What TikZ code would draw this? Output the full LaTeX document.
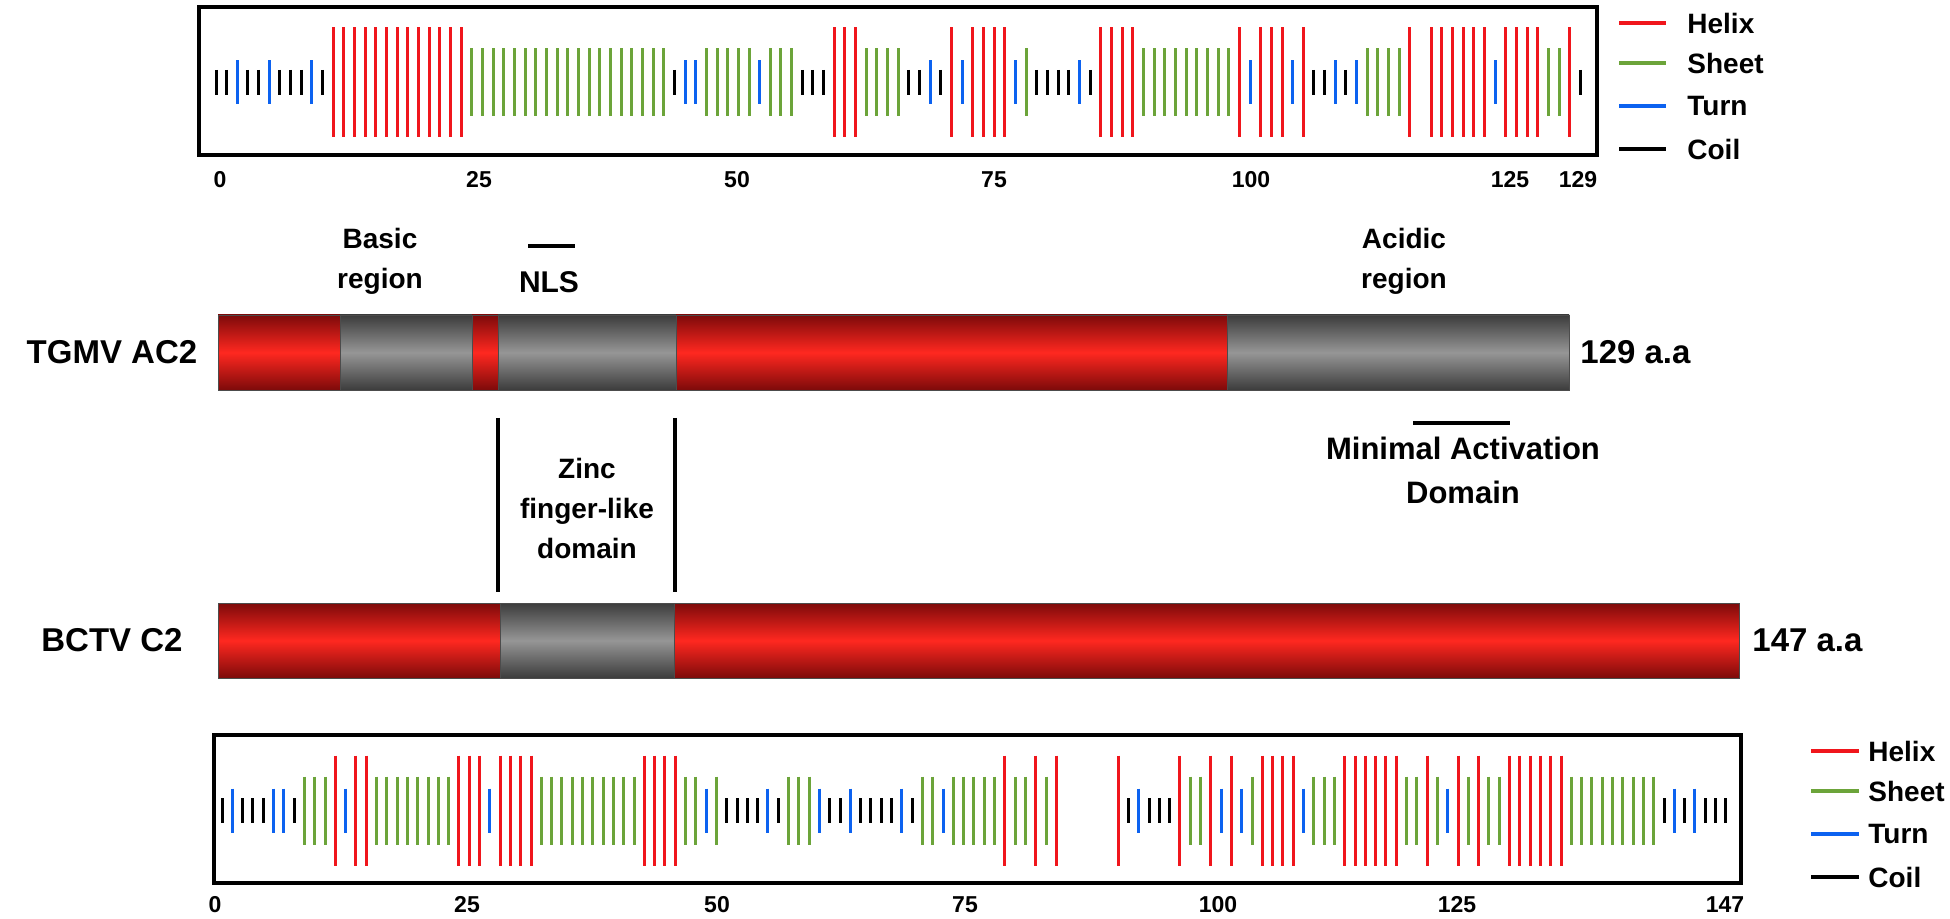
\documentclass[tikz,border=0pt]{standalone}
\usepackage{fontspec}
\setmainfont{Liberation Sans}
\definecolor{hx}{RGB}{240,22,28}
\definecolor{sh}{RGB}{108,164,58}
\definecolor{tn}{RGB}{12,98,240}
\definecolor{rdk}{RGB}{125,10,10}
\definecolor{rmid}{RGB}{255,40,32}
\definecolor{gdk}{RGB}{60,60,60}
\definecolor{gmid}{RGB}{150,150,150}
\tikzset{
  hbar/.style={draw=hx,line width=1.5pt},
  ebar/.style={draw=sh,line width=1.5pt},
  tbar/.style={draw=tn,line width=1.5pt},
  cbar/.style={draw=black,line width=1.5pt},
  frame/.style={draw=black,line width=1.8pt},
  lbl/.style={font=\fontsize{14}{16}\selectfont\bfseries,align=center,inner sep=0pt},
  big/.style={font=\fontsize{16.5}{19}\selectfont\bfseries,inner sep=0pt},
  axl/.style={font=\fontsize{11.5}{13}\selectfont\bfseries,inner sep=0pt},
  redseg/.style={top color=rdk,bottom color=rdk,middle color=rmid,draw=black!70,line width=0.4pt},
  grayseg/.style={top color=gdk,bottom color=gdk,middle color=gmid,draw=black!70,line width=0.4pt},
  mark line/.style={draw=black,line width=1.8pt},
}
\newcommand\barH[2]{\draw[hbar] (#1,#2-55) -- (#1,#2+55);}
\newcommand\barE[2]{\draw[ebar] (#1,#2-34) -- (#1,#2+34);}
\newcommand\barT[2]{\draw[tbar] (#1,#2-22) -- (#1,#2+22);}
\newcommand\barC[2]{\draw[cbar] (#1,#2-12.5) -- (#1,#2+12.5);}
\newcommand\barN[2]{}
\newcommand\ssdraw[4]{\foreach \typ [count=\k] in {#4} {\pgfmathsetmacro\xx{#1+(\k-1)*#2}\csname bar\typ\endcsname{\xx}{#3}}}
\begin{document}
\begin{tikzpicture}[x=0.5pt,y=-0.5pt]
\useasboundingbox (0,0) rectangle (1950,919);
% ---------- top strip ----------
\draw[frame] (199,7) rectangle (1597,155);
\ssdraw{216}{10.66}{82.5}{C,C,T,C,C,T,C,C,C,T,C,
H,H,H,H,H,H,H,H,H,H,H,H,H,
E,E,E,E,E,E,E,E,E,E,E,E,E,E,E,E,E,E,E,
C,T,T,E,E,E,E,E,T,E,E,E,C,C,C,H,H,H,E,E,E,E,
C,C,T,C,H,T,H,H,H,H,T,E,C,C,C,C,T,C,H,H,H,H,
E,E,E,E,E,E,E,E,E,H,T,H,H,H,T,H,C,C,T,C,T,E,E,E,E,
H,N,H,H,H,H,H,H,T,H,H,H,H,E,E,H,C}
\foreach \v/\x in {0/220,25/479,50/737,75/994,100/1251,125/1510,129/1578}
  \node[axl] (ta\v) at (\x,180) {\v};
% top legend
\foreach \n/\c/\y in {Helix/hx/23,Sheet/sh/63,Turn/tn/106,Coil/black/149}{
  \coordinate (tl\n a) at (1619,\y);
  \coordinate (tl\n b) at (1666,\y);
  \draw[draw=\c,line width=1.6pt] (tl\n a) -- (tl\n b);
  \node[lbl,anchor=west] (tlt\n) at (1687,\y) {\n};
}
% ---------- labels above TGMV ----------
\node[lbl] (basic) at (380,261) {Basic\\[4pt]region};
\coordinate (nlsa) at (528,246);
\coordinate (nlsb) at (575,246);
\draw[mark line] (nlsa) -- (nlsb);
\node[lbl,font=\fontsize{15}{17}\selectfont\bfseries] (nls) at (549,282) {NLS};
\node[lbl] (acid) at (1404,261) {Acidic\\[4pt]region};
% ---------- TGMV bar ----------
\path[redseg] (218,315) rectangle (340,390);
\path[grayseg] (340,315) rectangle (472,390);
\path[redseg] (472,315) rectangle (498,390);
\path[grayseg] (498,315) rectangle (676,390);
\path[redseg] (676,315) rectangle (1227,390);
\path[grayseg] (1227,315) rectangle (1569,390);
\node[big] (tgmv) at (112,352) {TGMV AC2};
\node[big,anchor=west] (t129) at (1580,352) {129 a.a};
% minimal activation domain
\coordinate (mada) at (1413,423);
\coordinate (madb) at (1510,423);
\draw[mark line] (mada) -- (madb);
\node[lbl,font=\fontsize{15.5}{18}\selectfont\bfseries] (mad) at (1463,470) {Minimal Activation\\[4pt]Domain};
% zinc finger lines
\coordinate (z1a) at (498,418);
\coordinate (z1b) at (498,592);
\coordinate (z2a) at (675,418);
\coordinate (z2b) at (675,592);
\draw[mark line] (z1a) -- (z1b);
\draw[mark line] (z2a) -- (z2b);
\node[lbl] (zinc) at (587,508) {Zinc\\[4pt]finger-like\\[4pt]domain};
% ---------- BCTV bar ----------
\path[redseg] (218,603) rectangle (500,678);
\path[grayseg] (500,603) rectangle (674,678);
\path[redseg] (674,603) rectangle (1739,678);
\node[big] (bctv) at (112,640) {BCTV C2};
\node[big,anchor=west] (b147) at (1752,640) {147 a.a};
% ---------- bottom strip ----------
\draw[frame] (214,735) rectangle (1741,883);
\ssdraw{222}{10.3}{810.5}{C,T,C,C,C,T,T,C,E,E,E,H,T,H,H,
E,E,E,E,E,E,E,E,H,H,H,T,H,H,H,H,
E,E,E,E,E,E,E,E,E,E,H,H,H,H,E,E,T,E,
C,C,C,C,T,C,E,E,E,T,C,C,T,C,C,C,C,T,C,
E,E,T,E,E,E,E,E,H,E,E,H,E,H,N,N,N,N,N,
H,C,T,C,C,C,H,E,E,H,T,H,T,E,H,H,H,H,T,E,E,E,
H,H,H,H,H,H,E,E,H,E,T,H,E,H,E,E,H,H,H,H,H,H,
E,E,E,E,E,E,E,E,E,C,T,C,T,C,C,C}
\foreach \v/\x in {0/215,25/467,50/717,75/965,100/1218,125/1457,147/1725}
  \node[axl] (ba\v) at (\x,905) {\v};
% bottom legend
\foreach \n/\c/\y in {Helix/hx/751,Sheet/sh/791,Turn/tn/834,Coil/black/877}{
  \coordinate (bl\n a) at (1811,\y);
  \coordinate (bl\n b) at (1859,\y);
  \draw[draw=\c,line width=1.6pt] (bl\n a) -- (bl\n b);
  \node[lbl,anchor=west] (blt\n) at (1868,\y) {\n};
}
\end{tikzpicture}
\end{document}
